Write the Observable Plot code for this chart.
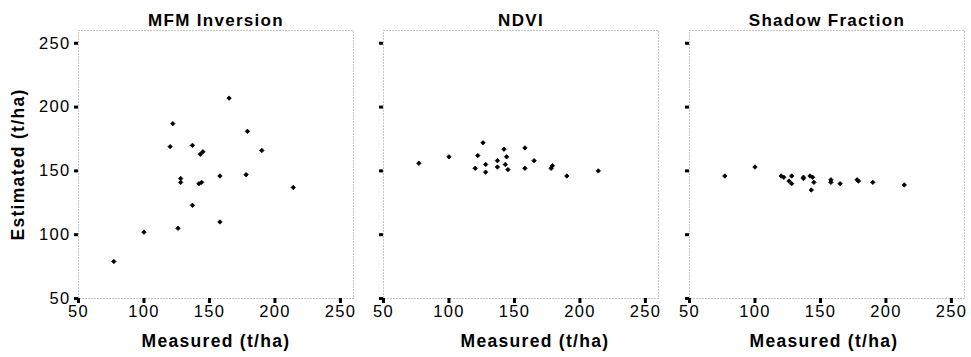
<!DOCTYPE html>
<html>
<head>
<meta charset="utf-8">
<script src="https://cdn.jsdelivr.net/npm/d3@7"></script>
<script src="https://cdn.jsdelivr.net/npm/@observablehq/plot@0.6"></script>
<style>
  html, body { margin: 0; padding: 0; background: #fff; }
  #chart { position: relative; width: 971px; height: 357px; overflow: hidden; }
  #chart svg { position: absolute; top: 0; }
</style>
</head>
<body>
<div id="chart"></div>
<script>
const measured = [77,100,120,122,126,128,128,137,137,142,144,143,145,158,158,165,178,179,190,214];
const mfmEstimated = [79,102,169,187,105,144,141,170,123,140,141,163,165,146,110,207,147,181,166,137];
const ndviEstimated = [156,161,152,162,172,155,149,158,153,167,161,155,151,168,152,158,152,154,146,150];
const shadowEstimated = [146,153,146,145,142,146,140,145,144,146,145,135,141,143,141,140,143,142,141,139];
const panelTitles = ["MFM Inversion", "NDVI", "Shadow Fraction"];
const xTicks = [50,100,150,200,250];
const yTicks = [50,100,150,200,250];
const xLabel = "Measured (t/ha)";
const yLabel = "Estimated (t/ha)";

const panels = [
  {values: mfmEstimated, left: 0, width: 360, marginLeft: 78, showY: true, xLabelDx: 0},
  {values: ndviEstimated, left: 360, width: 305, marginLeft: 23, showY: false, xLabelDx: 14},
  {values: shadowEstimated, left: 665, width: 306, marginLeft: 24, showY: false, xLabelDx: -3}
];

const font = "Liberation Sans, Arial, Helvetica, sans-serif";
const container = document.getElementById("chart");

panels.forEach((p, i) => {
  const data = measured.map((m, j) => ({m, v: p.values[j]}));
  const marks = [
    Plot.frame({stroke: "#8a8a8a", strokeDasharray: "1,2", strokeWidth: 1}),
    Plot.axisX({ticks: xTicks, tickSize: 5, tickPadding: 2, strokeWidth: 3, fontSize: 16.5, label: null, tickFormat: d => String(d)}),
    Plot.axisY({ticks: yTicks, tickSize: 4, tickPadding: 4, strokeWidth: 3, fontSize: 16.5, label: null, tickFormat: p.showY ? (d => String(d)) : (() => "")}),
    Plot.dot(data, {x: "m", y: "v", symbol: "diamond2", fill: "black", stroke: "black", strokeWidth: 0.8, r: 2}),
    Plot.text([panelTitles[i]], {frameAnchor: "top", dy: -5, lineAnchor: "bottom", fontSize: 17, fontWeight: "bold", fill: "black", letterSpacing: "2px"}),
    Plot.text([xLabel], {frameAnchor: "bottom", dy: 43, dx: p.xLabelDx, lineAnchor: "middle", fontSize: 17.5, fontWeight: "bold", fill: "black", letterSpacing: "1.8px"})
  ];
  if (p.showY) {
    marks.push(Plot.text([yLabel], {frameAnchor: "left", dx: -60, dy: 0, rotate: -90, textAnchor: "middle", lineAnchor: "middle", fontSize: 17.5, fontWeight: "bold", fill: "black"}));
  }
  const svg = Plot.plot({
    width: p.width,
    height: 357,
    marginLeft: p.marginLeft,
    marginRight: p.width - p.marginLeft - 275,
    marginTop: 30,
    marginBottom: 59,
    x: {domain: [50, 260]},
    y: {domain: [50, 260]},
    style: {fontFamily: font, fontSize: "16px", letterSpacing: "1.3px", color: "black", background: "white", overflow: "visible"},
    marks
  });
  svg.style.left = p.left + "px";
  container.appendChild(svg);
});
</script>
</body>
</html>
